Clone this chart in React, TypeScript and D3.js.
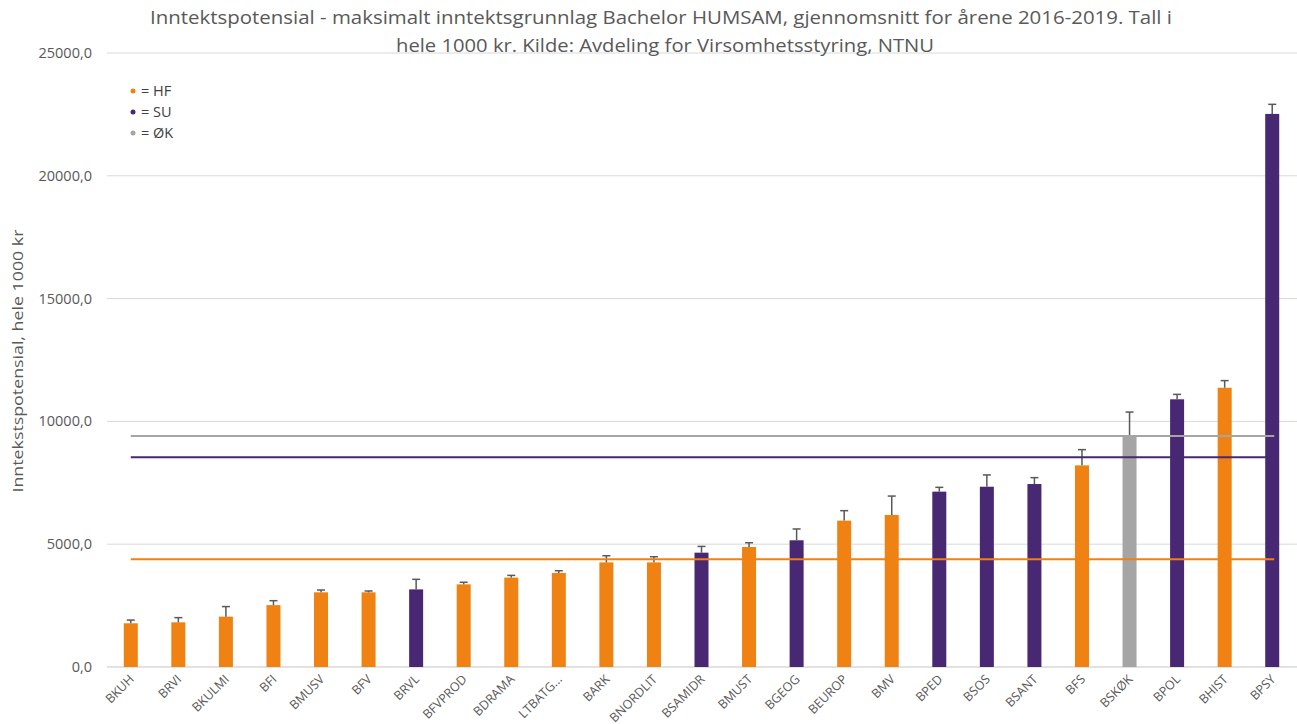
import React, { useRef, useEffect } from "react";
import * as d3 from "d3";

// programmes, sorted by value
const programmes = [
  "BKUH", "BRVI", "BKULMI", "BFI", "BMUSV", "BFV", "BRVL", "BFVPROD", "BDRAMA", "LTBATG...",
  "BARK", "BNORDLIT", "BSAMIDR", "BMUST", "BGEOG", "BEUROP", "BMV", "BPED", "BSOS", "BSANT",
  "BFS", "BSKØK", "BPOL", "BHIST", "BPSY",
];
const faculty = [
  "HF", "HF", "HF", "HF", "HF", "HF", "SU", "HF", "HF", "HF",
  "HF", "HF", "SU", "HF", "SU", "HF", "HF", "SU", "SU", "SU",
  "HF", "ØK", "SU", "HF", "SU",
];
const values = [
  1780, 1820, 2050, 2520, 3040, 3040, 3160, 3365, 3640, 3830,
  4260, 4260, 4655, 4885, 5160, 5960, 6190, 7140, 7340, 7450,
  8210, 9380, 10900, 11370, 22520,
];
const errorTop = [
  1910, 2010, 2460, 2700, 3135, 3095, 3570, 3450, 3730, 3920,
  4530, 4490, 4910, 5060, 5620, 6365, 6960, 7315, 7820, 7710,
  8850, 10380, 11100, 11660, 22910,
];
const facultyAverage = [
  { key: "ØK", value: 9405 },
  { key: "SU", value: 8540 },
  { key: "HF", value: 4385 },
];
const legendKeys = ["HF", "SU", "ØK"];
const yTicks = [0, 5000, 10000, 15000, 20000, 25000];

const colors: Record<string, string> = { HF: "#ef8212", SU: "#482773", ØK: "#a5a5a5" };
const textColor = "#595959";
const font = "'Open Sans', sans-serif";

function App() {
  const svgRef = useRef<SVGSVGElement>(null);
  const width = 1297;
  const height = 724;

  useEffect(() => {
    const svg = d3.select(svgRef.current);
    svg.selectAll("*").remove();

    const margin = { top: 53, right: 1, bottom: 57, left: 107 };

    const x = d3.scaleBand()
      .domain(programmes)
      .range([margin.left, width - margin.right]);
    const y = d3.scaleLinear()
      .domain([0, 25000])
      .range([height - margin.bottom, margin.top]);

    // gridlines
    svg.append("g")
      .selectAll("line")
      .data(yTicks)
      .join("line")
      .attr("x1", margin.left)
      .attr("x2", width)
      .attr("y1", d => y(d))
      .attr("y2", d => y(d))
      .attr("stroke", "#d9d9d9")
      .attr("stroke-width", d => (d === 0 ? 1.5 : 1));

    // y tick labels
    svg.append("g")
      .selectAll("text")
      .data(yTicks)
      .join("text")
      .attr("x", 92)
      .attr("y", d => y(d))
      .attr("dy", "0.35em")
      .attr("text-anchor", "end")
      .attr("font-family", font)
      .attr("font-size", 14.5)
      .attr("fill", textColor)
      .text(d => d3.format("d")(d) + ",0");

    // y title (narrow font in the original, so squeeze it)
    svg.append("text")
      .attr("transform", `translate(23,${y(12500) + 1}) rotate(-90)`)
      .attr("text-anchor", "middle")
      .attr("font-family", font)
      .attr("font-size", 15)
      .attr("textLength", 263)
      .attr("lengthAdjust", "spacingAndGlyphs")
      .attr("fill", textColor)
      .text("Inntekstspotensial, hele 1000 kr");

    const barW = 14;
    const cx = (p: string) => (x(p) as number) + x.bandwidth() / 2;

    // bars
    svg.append("g")
      .selectAll("rect")
      .data(programmes)
      .join("rect")
      .attr("x", d => cx(d) - barW / 2)
      .attr("width", barW)
      .attr("y", (d, i) => y(values[i]))
      .attr("height", (d, i) => y(0) - y(values[i]))
      .attr("fill", (d, i) => colors[faculty[i]]);

    // error bars
    const eb = svg.append("g").attr("stroke", textColor).attr("stroke-width", 1.5);
    programmes.forEach((p, i) => {
      eb.append("line")
        .attr("x1", cx(p)).attr("x2", cx(p))
        .attr("y1", y(values[i])).attr("y2", y(errorTop[i]));
      eb.append("line")
        .attr("x1", cx(p) - 4).attr("x2", cx(p) + 4)
        .attr("y1", y(errorTop[i])).attr("y2", y(errorTop[i]));
    });

    // faculty average lines
    svg.append("g")
      .selectAll("line")
      .data(facultyAverage)
      .join("line")
      .attr("x1", cx(programmes[0]))
      .attr("x2", cx(programmes[programmes.length - 1]) + 2)
      .attr("y1", d => y(d.value))
      .attr("y2", d => y(d.value))
      .attr("stroke", d => colors[d.key])
      .attr("stroke-width", 2);

    // x labels
    svg.append("g")
      .selectAll("text")
      .data(programmes)
      .join("text")
      .attr("transform", d => `translate(${cx(d) + 4},${y(0) + 13}) rotate(-45)`)
      .attr("text-anchor", "end")
      .attr("font-family", font)
      .attr("font-size", 12.5)
      .attr("fill", textColor)
      .text(d => d);

    // legend
    const lg = svg.append("g");
    legendKeys.forEach((k, i) => {
      lg.append("circle")
        .attr("cx", 133).attr("cy", 91 + i * 21).attr("r", 2.5)
        .attr("fill", colors[k]);
      lg.append("text")
        .attr("x", 141).attr("y", 91 + i * 21).attr("dy", "0.35em")
        .attr("font-family", font).attr("font-size", 14.5).attr("fill", "#404040")
        .text("= " + k);
    });

    // title
    const title = svg.append("text")
      .attr("text-anchor", "middle")
      .attr("font-family", font)
      .attr("font-size", 19)
      .attr("fill", textColor);
    title.append("tspan").attr("x", 661).attr("y", 24)
      .attr("textLength", 1022).attr("lengthAdjust", "spacingAndGlyphs")
      .text("Inntektspotensial - maksimalt inntektsgrunnlag Bachelor HUMSAM, gjennomsnitt for årene 2016-2019. Tall i");
    title.append("tspan").attr("x", 665).attr("y", 52)
      .attr("textLength", 538).attr("lengthAdjust", "spacingAndGlyphs")
      .text("hele 1000 kr. Kilde: Avdeling for Virsomhetsstyring, NTNU");
  }, []);

  return (
    <svg
      ref={svgRef}
      width={width}
      height={height}
      style={{ position: "absolute", left: 0, top: 0, background: "#fff" }}
    />
  );
}

export default App;
